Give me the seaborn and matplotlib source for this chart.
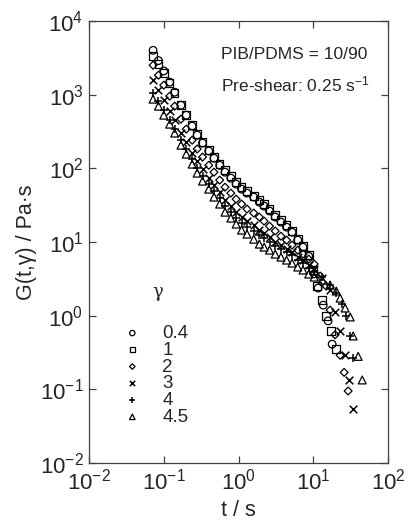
import matplotlib
matplotlib.use('Agg')
import matplotlib.pyplot as plt
import seaborn as sns
import pandas as pd

sns.set_style('ticks')
plt.rcParams['font.family'] = ['Liberation Sans', 'DejaVu Sans']
plt.rcParams['mathtext.fontset'] = 'custom'
plt.rcParams['mathtext.rm'] = 'Liberation Sans'
plt.rcParams['mathtext.it'] = 'Liberation Sans:italic'
plt.rcParams['mathtext.default'] = 'regular'

# common time grid of the dense part (s)
t_dense = [0.072, 0.085, 0.10, 0.12, 0.14, 0.17, 0.20, 0.24, 0.28, 0.33,
           0.40, 0.47, 0.56, 0.66, 0.79, 0.93, 1.1, 1.3, 1.6, 1.9,
           2.2, 2.6, 3.1, 3.7, 4.4, 5.2, 6.2, 7.3, 8.7, 10.3]

# G(t, gamma) in Pa s, dense part
g_04 = [4000, 2900, 2100, 1480, 1080, 720, 527, 374, 282, 220, 172, 137, 110, 88.7, 73.6,
        61.1, 52.2, 46.1, 40.7, 34.7, 30.7, 26.3, 21.8, 18.6, 15.9, 13.6, 10.6, 8.5, 6.4]
g_1 = [3330, 2590, 1960, 1433, 1049, 720, 527, 386, 291, 226, 177, 142, 114, 94.5, 78.3,
       65.0, 55.5, 49.0, 41.9, 37.0, 32.7, 28.0, 23.2, 19.8, 16.9, 14.1, 10.9, 8.8, 6.6]
g_2 = [2510, 1838, 1345, 954, 698, 465, 341, 241, 183, 142, 110, 88.7, 69.2, 55.5, 46.1,
       38.2, 32.7, 28.0, 24.7, 21.8, 19.2, 16.4, 14.1, 12.0, 10.6, 9.08, 7.76, 6.85, 5.86, 5.02]
g_3 = [1573, 1151, 842, 597, 451, 301, 226, 161, 125, 97.5, 73.6, 59.2, 47.5, 37.0, 30.7,
       25.4, 21.8, 19.2, 16.9, 14.5, 13.2, 11.6, 9.95, 9.08, 8.01, 7.29, 6.23, 5.68, 4.86, 4.29]
g_4 = [1049, 816, 616, 451, 341, 241, 183, 133, 101, 78.3, 61.1, 49.0, 39.4, 30.7, 25.4,
       21.1, 18.0, 15.9, 14.1, 12.4, 11.3, 9.95, 8.79, 8.01, 7.29, 6.63, 5.68, 5.17, 4.43, 3.91]
g_45 = [869, 698, 527, 398, 301, 206, 156, 114, 86.1, 67.1, 52.2, 40.7, 32.7, 25.4, 21.1,
        17.5, 14.5, 12.8, 10.9, 9.36, 8.52, 7.76, 6.85, 6.23, 5.68, 5.17, 4.57, 4.16, 3.67, 3.34]

# long-time tails (sparse points)
tail_t_04 = [10.3, 11.6, 13.6, 15.8, 17.9]
tail_g_04 = [3.7, 2.37, 1.39, 0.85, 0.41]
tail_t_1 = [10.0, 11.3, 13.2, 14.9, 17.4, 20.3]
tail_g_1 = [4.16, 2.52, 1.63, 0.99, 0.62, 0.35]
tail_t_2 = [12.4, 14.9, 16.8, 19.6, 22.9, 25.9, 29.3]
tail_g_2 = [3.45, 2.52, 1.19, 0.55, 0.29, 0.17, 0.095]
tail_t_3 = [13.2, 16.8, 19.6, 22.9, 26.7, 30.3, 34.2]
tail_g_3 = [3.24, 2.22, 1.12, 0.62, 0.29, 0.134, 0.054]
tail_t_4 = [13.2, 16.8, 20.3, 24.4, 27.6, 31.2, 34.2]
tail_g_4 = [3.34, 2.60, 2.02, 1.44, 0.99, 0.53, 0.27]
tail_t_45 = [13.2, 16.8, 20.3, 22.9, 26.7, 31.2, 34.2, 39.9, 45.2]
tail_g_45 = [3.04, 2.60, 2.16, 1.73, 1.27, 0.96, 0.53, 0.28, 0.134]

labels = ['0.4', '1', '2', '3', '4', '4.5']
markers = ['o', 's', 'D', 'x', '+', '^']
sizes = [30, 30, 16, 30, 38, 32]

series = [
    (t_dense[:len(g_04)] + tail_t_04, g_04 + tail_g_04),
    (t_dense[:len(g_1)] + tail_t_1, g_1 + tail_g_1),
    (t_dense + tail_t_2, g_2 + tail_g_2),
    (t_dense + tail_t_3, g_3 + tail_g_3),
    (t_dense + tail_t_4, g_4 + tail_g_4),
    (t_dense + tail_t_45, g_45 + tail_g_45),
]

fig = plt.figure(figsize=(4.08, 5.25), dpi=100)
ax = fig.add_axes([89 / 408, 1 - 463 / 525, 299 / 408, 442 / 525])

for (t, g), lab, m, s in zip(series, labels, markers, sizes):
    df = pd.DataFrame({'t': t, 'G': g})
    if m in ('x', '+'):
        sns.scatterplot(data=df, x='t', y='G', marker=m, s=s, color='black',
                        linewidth=1.1, ax=ax, label=lab)
    else:
        sns.scatterplot(data=df, x='t', y='G', marker=m, s=s, facecolor='none',
                        edgecolor='black', linewidth=0.9, ax=ax, label=lab)

ax.set_xscale('log')
ax.set_yscale('log')
ax.set_xlim(1e-2, 1e2)
ax.set_ylim(1e-2, 1e4)
ax.minorticks_off()
ax.tick_params(which='major', direction='in', length=5, width=0.9, color='#404040',
               top=True, right=True, labelsize=16, pad=4)
for sp in ax.spines.values():
    sp.set_color('#404040')
    sp.set_linewidth(0.9)

ax.set_xlabel('t / s', fontsize=15.5, labelpad=4)
ax.set_ylabel('G(t,γ) / Pa·s', fontsize=15.5, labelpad=2)

ax.text(0.44, 0.925, 'PIB/PDMS = 10/90', transform=ax.transAxes, fontsize=12.5,
        va='center')
ax.text(0.44, 0.857, 'Pre-shear: 0.25 s$^{-1}$', transform=ax.transAxes, fontsize=12.5,
        va='center')

leg = ax.legend(loc='upper left', bbox_to_anchor=(107 / 408, 1 - 308 / 525),
                bbox_transform=fig.transFigure, frameon=False, fontsize=13.5,
                handlelength=0.9, handletextpad=1.15, labelspacing=-0.02,
                markerscale=0.7, borderpad=0.4)
fig.text(158 / 408, 1 - 292 / 525, 'γ', fontsize=13, family='DejaVu Serif',
         ha='center', va='center')

fig.savefig('out.png', dpi=100)
